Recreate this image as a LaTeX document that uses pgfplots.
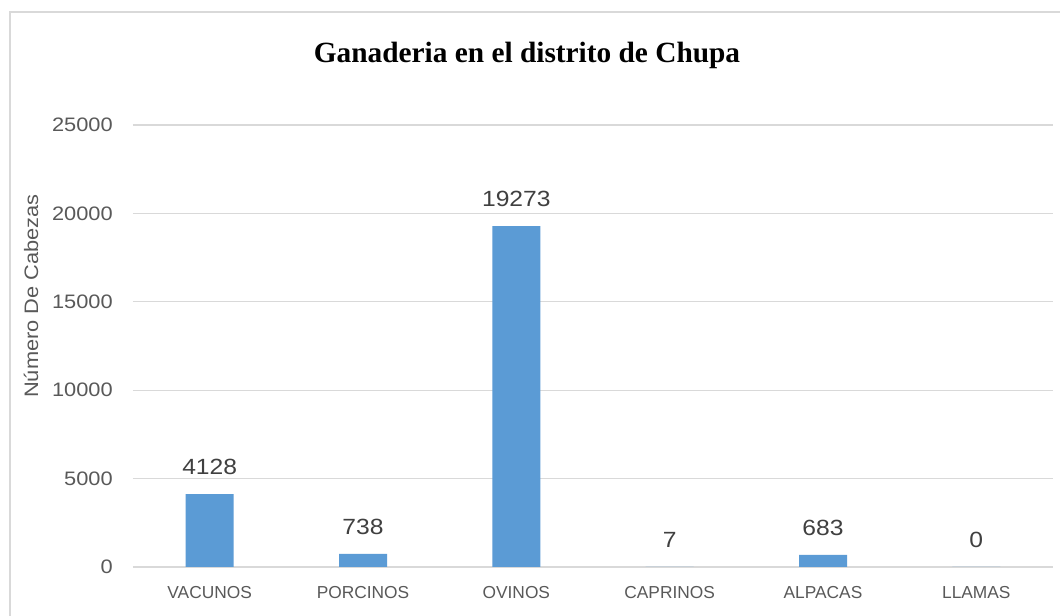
\documentclass[border=0pt]{standalone}
\usepackage{pgfplots}
\pgfplotsset{compat=1.18}
\usepackage{fontspec}
\setmainfont{Liberation Sans}
\newfontfamily\numfont[FakeStretch=1.12]{Liberation Sans}
\newfontfamily\titlefont{Liberation Serif}
\definecolor{barblue}{HTML}{5B9BD5}
\definecolor{gridgray}{HTML}{D9D9D9}
\definecolor{ticktext}{HTML}{595959}
\definecolor{valtext}{HTML}{404040}
\begin{document}
\begin{tikzpicture}
\path[use as bounding box] (0pt,0pt) rectangle (795pt,462pt);
\fill[white] (0pt,0pt) rectangle (795pt,462pt);
\draw[gridgray, line width=1.5pt] (7.5pt,-15pt) -- (7.5pt,453pt) -- (810pt,453pt);
\node[font={\titlefont\bfseries\fontsize{22}{26}\selectfont}, text=black] at (395.25pt,420.75pt) {Ganaderia en el distrito de Chupa};
\node[rotate=90, font={\numfont\fontsize{14.6}{17}\selectfont}, text=ticktext] at (23.25pt,240pt) {Número De Cabezas};
\begin{axis}[
  at={(99.75pt,36.75pt)}, anchor=south west,
  scale only axis, width=690pt, height=331.5pt,
  xmin=-0.5, xmax=5.5, ymin=0, ymax=25000,
  scaled y ticks=false,
  ybar, bar width=36pt,
  axis line style={draw=none}, tick style={draw=none}, major tick length=0pt,
  ymajorgrids, grid style={gridgray, line width=0.9pt},
  ytick={0,5000,10000,15000,20000,25000},
  yticklabels={0,5000,10000,15000,20000,25000},
  yticklabel style={anchor=east, inner sep=0pt, xshift=-15pt, font={\numfont\fontsize{14.6}{17}\selectfont}, text=ticktext},
  xtick={0,1,2,3,4,5},
  xticklabels={VACUNOS,PORCINOS,OVINOS,CAPRINOS,ALPACAS,LLAMAS},
  xticklabel style={anchor=north, inner sep=0pt, yshift=-14pt, font={\fontsize{13}{16}\selectfont}, text=ticktext},
  nodes near coords={\pgfmathprintnumber[assume math mode=true,1000 sep={}]{\pgfplotspointmeta}},
  every node near coord/.append style={anchor=south, inner sep=0pt, yshift=14.25pt, font={\numfont\fontsize{16.5}{19}\selectfont}, text=valtext},
]
\addplot[fill=barblue, draw=none] coordinates {(0,4128) (1,738) (2,19273) (3,7) (4,683) (5,0)};
\end{axis}
\end{tikzpicture}
\end{document}
